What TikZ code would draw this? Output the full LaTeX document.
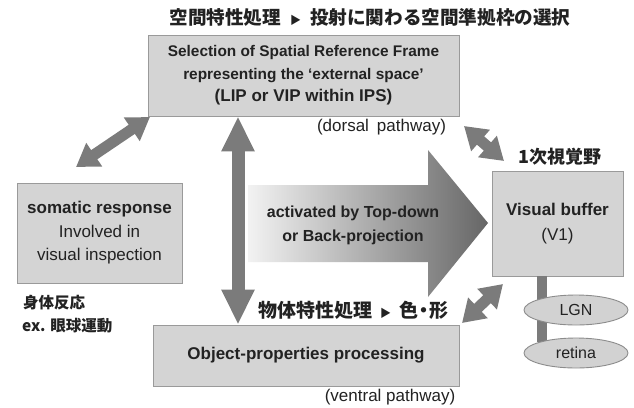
\documentclass[tikz,border=0pt]{standalone}
\usepackage{fontspec}
\setmainfont{Liberation Sans}
\newfontfamily\jpfont{Noto Sans CJK JP}
\usetikzlibrary{arrows.meta,shapes.geometric}
\definecolor{boxfill}{HTML}{D4D4D4}
\definecolor{boxline}{HTML}{9A9A9A}
\definecolor{arrowgray}{HTML}{7B7B7B}
\definecolor{txt}{HTML}{222222}
\definecolor{ellfill}{HTML}{D2D2D2}
\definecolor{ellline}{HTML}{8C8C8C}
\begin{document}
\begin{tikzpicture}[x=1pt,y=-1pt,
  box/.style={draw=boxline, fill=boxfill, line width=0.9pt, inner sep=0pt, align=center, text=txt},
  ell/.style={ellipse, draw=ellline, fill=ellfill, line width=0.9pt, inner sep=0pt, minimum width=104pt, minimum height=30pt, text=txt, font=\fontsize{16}{18}\selectfont},
  bigarrow/.style={draw=arrowgray, line width=13pt, {Triangle[width=31pt,length=35pt]}-{Triangle[width=31pt,length=35pt]}},
  diagarrow/.style={draw=arrowgray, line width=11pt, {Triangle[width=27pt,length=22pt]}-{Triangle[width=27pt,length=22pt]}},
  stemline/.style={draw=arrowgray, line width=10pt},
  jp/.style={text=txt, inner sep=0pt, font=\jpfont\bfseries},
  lbl/.style={text=txt, inner sep=0pt, font=\fontsize{17}{20}\selectfont}
]
\useasboundingbox (0,0) rectangle (634,407);
\fill[white] (0,0) rectangle (634,407);

% boxes
\node[box, minimum width=311pt, minimum height=81pt, font=\bfseries\fontsize{15.4}{22.5}\selectfont] (top) at (303.5,75.5)
  {Selection of Spatial Reference Frame\\representing the ‘external space’\\{\fontsize{17}{22.5}\selectfont (LIP or VIP within IPS)}};
\node[box, minimum width=165pt, minimum height=100pt, font=\fontsize{17}{23.5}\selectfont] (soma) at (99.5,233)
  {\textbf{somatic response}\\Involved in\\visual inspection};
\node[box, minimum width=131pt, minimum height=105pt, font=\fontsize{17}{25}\selectfont] (vis) at (557.5,223.5)
  {\textbf{Visual buffer}\\(V1)};
\node[box, minimum width=306pt, minimum height=61pt, font=\bfseries\fontsize{17}{20}\selectfont] (obj) at (306,355.5)
  {Object-properties processing};

% stem and ellipses
\coordinate (s1) at (542,276);
\coordinate (s2) at (542,342);
\draw[stemline] (s1) -- (s2);
\node[ell] (lgn) at (576,310) {LGN};
\node[ell] (ret) at (576,353) {retina};

% gradient arrow
\shade[left color=white!95!black, right color=black!60] (248,185) -- (428,185) -- (428,150) -- (488,223) -- (428,297) -- (428,262) -- (248,262) -- cycle;
\node[text=txt, align=center, inner sep=0pt, font=\bfseries\fontsize{16}{24}\selectfont] (td) at (353,225)
  {activated by Top-down\\or Back-projection};

% arrows
\coordinate (vx) at (238,0);
\draw[bigarrow] (top.south -| vx) -- (obj.north -| vx);
\coordinate (la) at (76,167);
\coordinate (lb) at (150,117);
\draw[diagarrow] (la) -- (lb);
\coordinate (ua) at (464,126);
\coordinate (ub) at (504,161);
\draw[diagarrow] (ua) -- (ub);
\coordinate (da) at (462,323);
\coordinate (db) at (503,284);
\draw[diagarrow] (da) -- (db);

% labels
\node[jp, font=\jpfont\bfseries\fontsize{18.6}{20}\selectfont] (title) at (370,17)
  {空間特性処理\hspace{9pt}{\fontsize{11}{11}\selectfont ▶}\hspace{9pt}投射に関わる空間準拠枠の選択};
\node[lbl] (dorsal) at (381.5,127) {(dorsal\hspace{8pt}pathway)};
\node[lbl] (ventral) at (390,397) {(ventral pathway)};
\node[jp, font=\jpfont\bfseries\fontsize{19}{20}\selectfont] (objjp) at (353,310)
  {物体特性処理\hspace{8pt}{\fontsize{11}{11}\selectfont ▶}\hspace{8pt}色{\kern-4pt}・{\kern-4pt}形};
\node[jp, font=\jpfont\bfseries\fontsize{18}{20}\selectfont] (v1jp) at (560,157) {1次視覚野};
\node[jp, anchor=west, font=\jpfont\bfseries\fontsize{15.5}{18}\selectfont] (somajp) at (23,303) {身体反応};
\node[jp, anchor=west, font=\jpfont\bfseries\fontsize{15.5}{18}\selectfont] (eyejp) at (22,326) {ex. 眼球運動};
\end{tikzpicture}
\end{document}
